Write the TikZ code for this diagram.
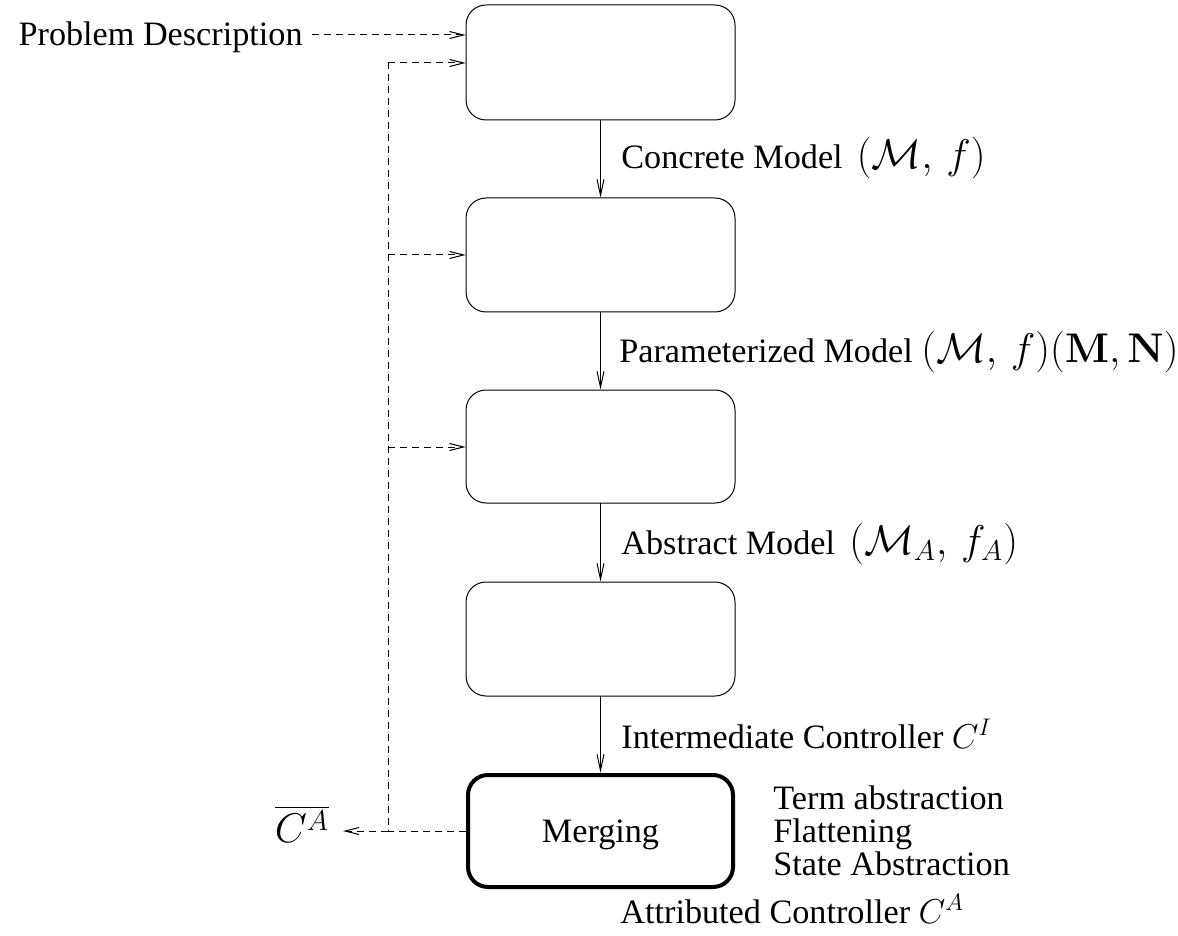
\documentclass[tikz,border=0pt]{standalone}
\usepackage[no-math]{fontspec}
\setmainfont{Liberation Serif}
\usetikzlibrary{arrows.meta}

% formulas in the stage labels are set a little larger than the text
\newcommand{\bigmath}[1]{{\fontsize{20pt}{20pt}\selectfont$#1$}}

\tikzset{
  stage/.style={draw, line width=0.5pt, rounded corners=10pt},
  mergebox/.style={draw, line width=2pt, rounded corners=10pt},
  flow/.style={line width=0.5pt, -{Straight Barb[length=8pt,width=3.5pt]}},
  feed/.style={line width=0.5pt, dash pattern=on 3.5pt off 2.5pt,
               -{Straight Barb[length=7pt,width=3.5pt]}},
  feedline/.style={line width=0.5pt, dash pattern=on 3.5pt off 2.5pt},
  txt/.style={inner sep=0pt, font=\fontsize{17.1pt}{16.5pt}\selectfont},
}

\begin{document}
\begin{tikzpicture}[x=0.5pt, y=-0.5pt]
  \useasboundingbox (0,0) rectangle (1178,936);

  % pipeline stages
  \draw[stage] (466,5) rectangle (735,120);
  \node[inner sep=0pt, minimum width=134.5pt, minimum height=57.5pt] (s1) at (600.5,62.5) {};
  \draw[stage] (466,198) rectangle (735,312);
  \node[inner sep=0pt, minimum width=134.5pt, minimum height=57pt] (s2) at (600.5,255) {};
  \draw[stage] (466,390) rectangle (735,503);
  \node[inner sep=0pt, minimum width=134.5pt, minimum height=56.5pt] (s3) at (600.5,446.5) {};
  \draw[stage] (466,582) rectangle (735,696);
  \node[inner sep=0pt, minimum width=134.5pt, minimum height=57pt] (s4) at (600.5,639) {};
  \draw[mergebox] (468,775) rectangle (733,887);
  \node[inner sep=0pt, minimum width=134.5pt, minimum height=58pt] (s5) at (600.5,831) {};
  \node[txt, anchor=base] (mtext) at (600.5,842) {Merging};

  % main flow
  \draw[flow] (s1.south) -- (s2.north);
  \draw[flow] (s2.south) -- (s3.north);
  \draw[flow] (s3.south) -- (s4.north);
  \draw[flow] (s4.south) -- (s5.north);

  % flow labels
  \node[txt, anchor=base west] (l1) at (621,169) {Concrete Model \,\bigmath{(\mathcal{M},\,f)}};
  \node[txt, anchor=base west] (l2) at (619,363) {Parameterized Model \bigmath{(\mathcal{M},\,f)(\mathbf{M},\mathbf{N})}};
  \node[txt, anchor=base west] (l3) at (621,554) {Abstract Model \,\bigmath{(\mathcal{M}_A,\,f_A)}};
  \node[txt, anchor=base west] (l4) at (621,748) {Intermediate Controller {\fontsize{18.5pt}{18.5pt}\selectfont$C^I$}};
  \node[txt, anchor=base west] (l5) at (620,923) {Attributed Controller $C^A$};

  % transformations applied while merging
  \node[txt, anchor=base west] (t1) at (773,809) {Term abstraction};
  \node[txt, anchor=base west] (t2) at (773,842) {Flattening};
  \node[txt, anchor=base west] (t3) at (773,875) {State Abstraction};

  % inputs and feedback
  \node[txt, anchor=base east] (pd) at (303,46) {Problem Description};
  \node[inner sep=0pt, anchor=base, font=\fontsize{22pt}{22pt}\selectfont] (cbar) at (302,842) {$\overline{C^A}$};

  \coordinate (fb) at (388,831);
  \coordinate (fbtop) at (388,63);
  \coordinate (fb2) at (388,255);
  \coordinate (fb3) at (388,447);
  \coordinate (cend) at (343,831);
  \coordinate (pdstart) at (312,35);

  \draw[feed] (pdstart) -- (s1.west |- pdstart);
  \draw[feedline] (s5.west) -- (fb) -- (fbtop);
  \draw[feed] (fbtop) -- (s1.west |- fbtop);
  \draw[feed] (fb2) -- (s2.west |- fb2);
  \draw[feed] (fb3) -- (s3.west |- fb3);
  \draw[feed] (fb) -- (cend);
\end{tikzpicture}
\end{document}
